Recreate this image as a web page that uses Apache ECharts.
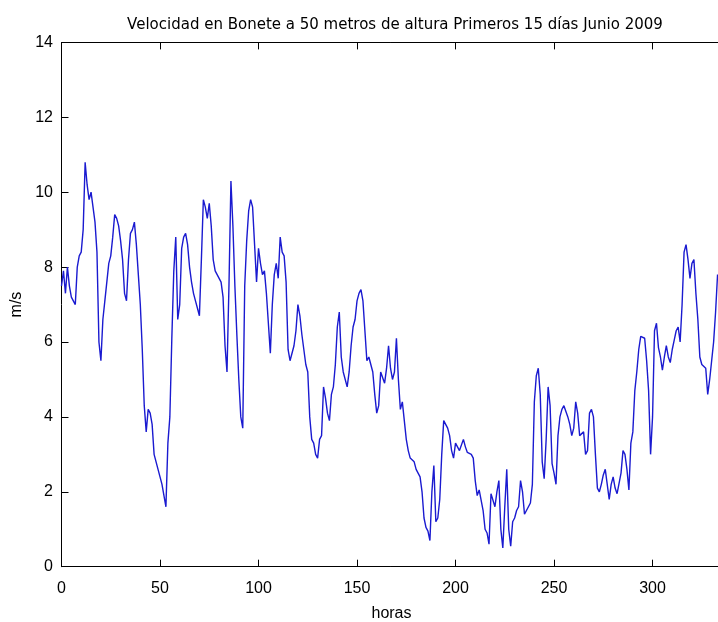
<!DOCTYPE html>
<html>
<head>
<meta charset="utf-8">
<script src="https://cdn.jsdelivr.net/npm/echarts@6/dist/echarts.min.js"></script>
<style>
  html, body { margin: 0; padding: 0; background: #ffffff; }
  #chart { width: 718px; height: 622px; }
</style>
</head>
<body>
<div id="chart"></div>
<script>
// Velocidad horaria del viento (m/s), un arreglo por día
const dia1  = [7.5,7.9,7.3,8.0,7.5,7.2,7.1,7.0,8.0,8.3,8.4,9.0,10.8,10.2,9.8,10.0,9.6,9.2,8.4,6.0,5.5,6.6,7.1,7.6];
const dia2  = [8.1,8.3,8.8,9.4,9.3,9.1,8.7,8.2,7.3,7.1,8.2,8.9,9.0,9.2,8.6,7.8,7.0,5.8,4.3,3.6,4.2,4.1,3.8,3.0];
const dia3  = [2.8,2.6,2.4,2.2,1.9,1.6,3.3,4.0,6.1,7.9,8.8,6.6,7.0,8.5,8.8,8.9,8.6,8.0,7.6,7.3,7.1,6.9,6.7,8.2];
const dia4  = [9.8,9.6,9.3,9.7,9.1,8.2,7.9,7.8,7.7,7.6,7.2,5.9,5.2,7.5,10.3,9.1,7.5,6.2,5.0,4.0,3.7,7.5,8.7,9.5];
const dia5  = [9.8,9.6,8.6,7.6,8.5,8.1,7.8,7.9,7.3,6.5,5.7,7.0,7.8,8.1,7.7,8.8,8.4,8.3,7.6,5.8,5.5,5.7,5.9,6.3];
const dia6  = [7.0,6.7,6.2,5.8,5.4,5.2,4.0,3.4,3.3,3.0,2.9,3.4,3.5,4.8,4.5,4.1,3.9,4.6,4.8,5.4,6.4,6.8,5.6,5.2];
const dia7  = [5.2,4.8,5.2,5.9,6.4,6.6,7.1,7.3,7.4,7.1,6.3,5.5,5.6,5.4,5.2,4.6,4.1,4.3,5.2,5.2,4.9,5.3,5.9,5.3];
const dia8  = [5.0,5.2,6.1,5.0,4.2,4.4,3.9,3.4,3.1,2.9,2.9,2.8,2.6,2.5,2.4,2.0,1.3,1.05,0.95,0.7,2.0,2.7,1.2,1.3];
const dia9  = [1.8,3.0,3.9,3.9,3.7,3.5,3.1,2.9,3.3,3.3,3.1,3.1,3.4,3.2,3.05,3.0,3.0,2.9,2.3,1.9,2.05,2.1,1.5,1.0];
const dia10 = [0.9,0.6,1.95,1.9,1.6,2.0,2.3,1.0,0.5,1.6,2.6,1.0,0.55,1.2,1.3,1.5,1.6,2.3,2.0,1.4,1.5,1.6,1.7,2.2];
const dia11 = [4.4,5.1,5.3,4.6,2.8,2.35,3.4,4.8,4.3,2.75,2.5,2.2,3.5,4.0,4.2,4.3,4.3,4.0,3.8,3.5,3.7,4.4,4.1,3.5];
const dia12 = [3.5,3.6,3.0,3.1,4.1,4.2,4.0,3.0,2.1,2.0,2.2,2.45,2.6,2.2,1.8,2.2,2.4,2.1,1.95,2.0,2.5,3.1,3.0,2.6];
const dia13 = [2.05,3.3,3.6,4.7,5.2,5.8,6.15,6.1,6.1,5.5,4.7,3.0,4.0,6.3,6.5,5.85,5.6,5.25,5.6,5.9,5.6,5.45,5.8,6.05];
const dia14 = [6.3,6.4,6.0,7.0,8.4,8.6,8.2,7.7,8.1,8.2,7.3,6.6,5.6,5.4,5.4,5.3,4.6,5.0,5.5,6.0,6.8,7.8];

// Marcas de los ejes
const xTicks = [0, 50, 100, 150, 200, 250, 300];
const yTicks = [0, 2, 4, 6, 8, 10, 12, 14];

const titulo = 'Velocidad en Bonete a 50 metros de altura Primeros 15 días Junio 2009';

const velocidad = [].concat(dia1, dia2, dia3, dia4, dia5, dia6, dia7, dia8, dia9,
                            dia10, dia11, dia12, dia13, dia14);
const serie = velocidad.map((v, h) => [h, v]);

const FONT = 'Liberation Sans';
const chart = echarts.init(document.getElementById('chart'), null, { renderer: 'canvas' });

chart.setOption({
  backgroundColor: '#ffffff',
  animation: false,
  title: {
    text: titulo,
    left: 390,
    top: 13,
    textAlign: 'center',
    textStyle: { fontFamily: 'DejaVu Sans', fontSize: 15, fontWeight: 'normal', color: '#000000' }
  },
  grid: { left: 61.5, top: 42.4, right: -3.5, bottom: 55.3, outerBoundsMode: 'none' },
  xAxis: [
    {
      type: 'value', min: 0, max: 335, position: 'bottom',
      name: 'horas', nameLocation: 'middle', nameGap: 39,
      nameTextStyle: { fontFamily: FONT, fontSize: 16, color: '#000000' },
      axisLine: { show: true, lineStyle: { color: '#000000', width: 1 } },
      axisTick: { show: true, inside: true, length: 7, customValues: xTicks,
                  lineStyle: { color: '#000000' } },
      axisLabel: { customValues: xTicks, margin: 14, color: '#000000',
                   fontFamily: FONT, fontSize: 16 },
      splitLine: { show: false }
    },
    {
      type: 'value', min: 0, max: 335, position: 'top',
      axisLine: { show: true, onZero: false, lineStyle: { color: '#000000', width: 1 } },
      axisTick: { show: true, inside: true, length: 7, customValues: xTicks,
                  lineStyle: { color: '#000000' } },
      axisLabel: { show: false },
      splitLine: { show: false }
    }
  ],
  yAxis: [
    {
      type: 'value', min: 0, max: 14, interval: 2, position: 'left',
      name: 'm/s', nameLocation: 'middle', nameGap: 35.5, nameRotate: 90,
      nameTextStyle: { fontFamily: FONT, fontSize: 16, color: '#000000' },
      axisLine: { show: true, lineStyle: { color: '#000000', width: 1 } },
      axisTick: { show: true, inside: true, length: 7, customValues: yTicks,
                  lineStyle: { color: '#000000' } },
      axisLabel: { customValues: yTicks, margin: 8.5, color: '#000000',
                   fontFamily: FONT, fontSize: 16 },
      splitLine: { show: false }
    }
  ],
  series: [
    {
      type: 'line',
      data: serie,
      xAxisIndex: 0,
      yAxisIndex: 0,
      showSymbol: false,
      symbol: 'none',
      lineStyle: { color: '#1a1ad0', width: 1.4 },
      clip: true
    }
  ]
});
</script>
</body>
</html>
